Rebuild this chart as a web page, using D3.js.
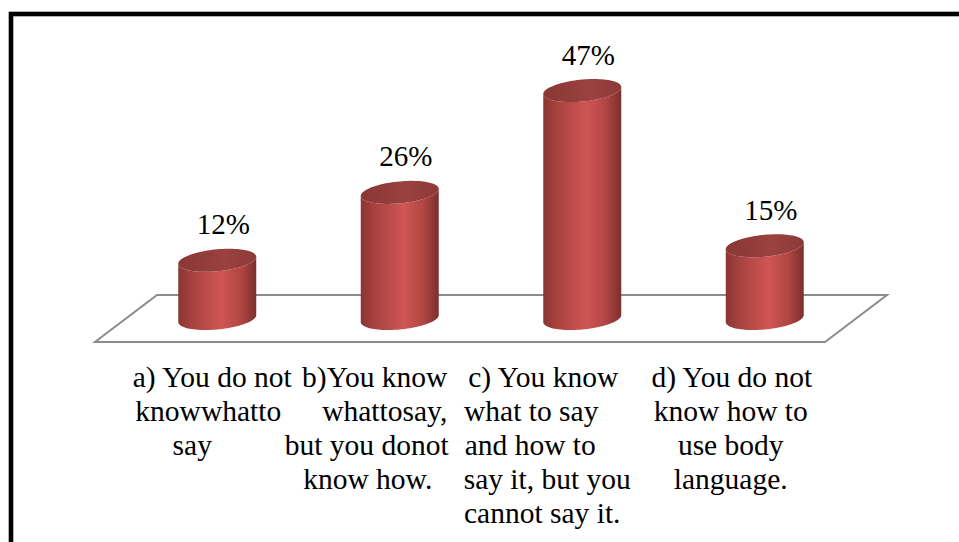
<!DOCTYPE html>
<html>
<head>
<meta charset="utf-8">
<script src="https://cdn.jsdelivr.net/npm/d3@7"></script>
</head>
<body style="margin:0">
<svg id="chart" width="959" height="542"></svg>
<script>
// Survey answers and their shares (percent)
const categories = ["a", "b", "c", "d"];
const values = [12, 26, 47, 15];
const valueLabels = ["12%", "26%", "47%", "15%"];
const categoryLines = [
  ["a) You do not", "knowwhatto", "say"],
  ["b)You know", "whattosay,", "but you donot", "know how."],
  ["c) You know", "what to say", "and how to", "say it, but you", "cannot say it."],
  ["d) You do not", "know how to", "use body", "language."]
];

const W = 959, H = 542;
const FONT = "'Liberation Serif'";
const svg = d3.select("#chart");

// Frame around the figure
svg.append("rect")
  .attr("x", 11).attr("y", 14)
  .attr("width", W + 20).attr("height", H + 20)
  .attr("fill", "none").attr("stroke", "#000").attr("stroke-width", 4.6);

// Oblique floor geometry
const floorBackY = 295, floorFrontY = 342;
const depthShift = 62;            // horizontal offset between back and front edge
const floorFrontLeft = 95, floorFrontRight = 825;
const baseY = (floorBackY + floorFrontY) / 2;

// Scales: bars stand on the middle line of the floor, labels follow the front edge
const xBar = d3.scaleBand().domain(categories)
  .range([floorFrontLeft + depthShift / 2, floorFrontRight + depthShift / 2]);
const xLabel = d3.scaleBand().domain(categories)
  .range([floorFrontLeft, floorFrontRight]);
const y = d3.scaleLinear().domain([0, 50]).range([baseY, baseY - 50 * 4.85]);

// Floor outline
const floorPts = [
  [floorFrontLeft + depthShift, floorBackY],
  [floorFrontRight + depthShift, floorBackY],
  [floorFrontRight, floorFrontY],
  [floorFrontLeft, floorFrontY]
];
svg.append("path")
  .attr("d", d3.line()(floorPts) + "Z")
  .attr("fill", "none").attr("stroke", "#8c8c8c").attr("stroke-width", 2);

// Gradients for the cylinder walls and lids
const defs = svg.append("defs");
const wall = defs.append("linearGradient").attr("id", "wall")
  .attr("x1", "0").attr("x2", "1").attr("y1", "0").attr("y2", "0");
[["0", "#8b3533"], ["0.18", "#a8423f"], ["0.55", "#cf5654"], ["0.8", "#b24643"], ["1", "#7a2f2d"]]
  .forEach(([o, c]) => wall.append("stop").attr("offset", o).attr("stop-color", c));
const lid = defs.append("linearGradient").attr("id", "lid")
  .attr("x1", "0").attr("x2", "1").attr("y1", "0").attr("y2", "0");
[["0", "#8a3735"], ["0.6", "#9a4240"], ["1", "#8c3a38"]]
  .forEach(([o, c]) => lid.append("stop").attr("offset", o).attr("stop-color", c));

// Cylinder shape: sheared ellipses so the lid tilts up to the right
const rx = 39, ry = 11, shear = 3.5 / 39;
function ellipsePt(cx, cy, t) {
  return [cx + rx * Math.cos(t), cy + ry * Math.sin(t) - shear * rx * Math.cos(t)];
}
const N = 48;
function wallPath(cx, topY, botY) {
  const pts = [];
  pts.push(ellipsePt(cx, topY, Math.PI));
  for (let i = 0; i <= N; i++) pts.push(ellipsePt(cx, botY, Math.PI - Math.PI * i / N));
  for (let i = 0; i <= N; i++) pts.push(ellipsePt(cx, topY, Math.PI * i / N));
  return d3.line()(pts) + "Z";
}
function lidPath(cx, cy) {
  const pts = d3.range(0, 2 * N).map(i => ellipsePt(cx, cy, 2 * Math.PI * i / (2 * N)));
  return d3.line()(pts) + "Z";
}

const bars = svg.append("g").selectAll("g").data(categories).join("g");
bars.append("path")
  .attr("d", (c, i) => wallPath(xBar(c) + xBar.bandwidth() / 2, y(values[i]), y(0)))
  .attr("fill", "url(#wall)");
bars.append("path")
  .attr("d", (c, i) => lidPath(xBar(c) + xBar.bandwidth() / 2, y(values[i])))
  .attr("fill", "url(#lid)");

// Centred text: laid out left-aligned, then shifted by half its measured width
function centredText(str, cx, baseline, size) {
  const t = svg.append("text")
    .attr("x", cx).attr("y", baseline)
    .style("font-family", FONT)
    .style("font-size", size + "px")
    .text(str);
  const w = t.node().getComputedTextLength();
  t.attr("x", cx - w / 2).text(str);
  return t;
}

// Value labels above each cylinder
categories.forEach((c, i) => {
  centredText(valueLabels[i], xBar(c) + xBar.bandwidth() / 2 + 6, y(values[i]) - ry - 15, 29);
});

// Category labels under the floor, wrapped as in the source layout
const lineShift = [
  [26, 22, 6],
  [6, 16, -2, -1],
  [-8, -20, -21, -4, -9],
  [-2, -3, -3, -3]
];
const firstBaseline = 387, lineHeight = 34;
categories.forEach((c, i) => {
  const cx = xLabel(c) + xLabel.bandwidth() / 2;
  categoryLines[i].forEach((line, j) => {
    centredText(line, cx + lineShift[i][j], firstBaseline + j * lineHeight, 29.5);
  });
});
</script>
</body>
</html>
